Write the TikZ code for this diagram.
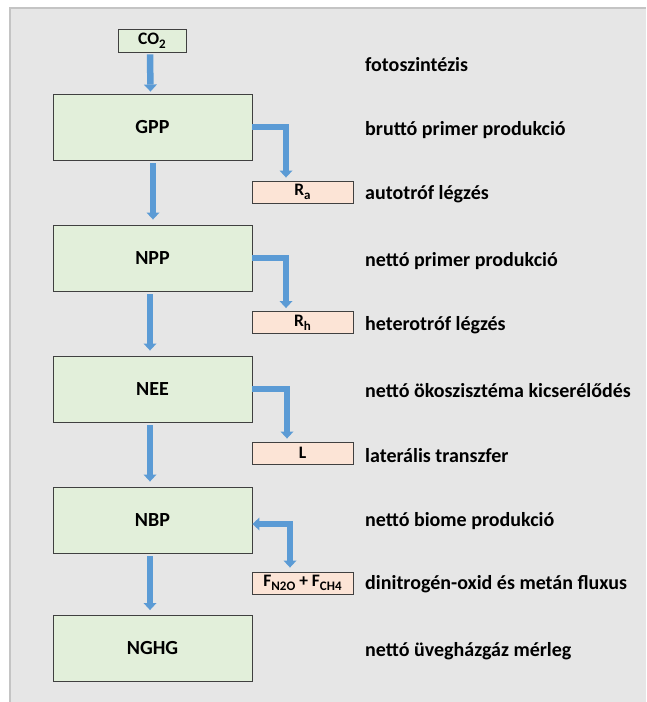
\documentclass[tikz,border=0pt]{standalone}
\usepackage{fontspec}
\setmainfont{Carlito}
\usetikzlibrary{arrows.meta,calc}
\definecolor{bg}{HTML}{E6E6E6}
\definecolor{frame}{HTML}{C4C4C4}
\definecolor{greenfill}{HTML}{E2EFDA}
\definecolor{pinkfill}{HTML}{FCE4D6}
\definecolor{arrowblue}{HTML}{5B9BD5}
\definecolor{boxline}{HTML}{404040}
\newcommand\lsub[1]{\raisebox{-0.22em}{\fontsize{13}{14}\selectfont #1}}
\begin{document}
\begin{tikzpicture}[x=1pt,y=-1pt,
  mainbox/.style={draw=boxline, fill=greenfill, line width=0.9pt, minimum width=199pt, minimum height=66pt, inner sep=0pt, font=\fontsize{20}{22}\selectfont\bfseries},
  fluxbox/.style={draw=boxline, fill=pinkfill, line width=0.9pt, minimum width=101pt, minimum height=22pt, inner sep=0pt, font=\fontsize{17.5}{19}\selectfont\bfseries},
  desc/.style={anchor=base west, inner sep=0pt, font=\fontsize{20}{22}\selectfont\bfseries},
  barrow/.style={draw=arrowblue, line width=6.5pt, -{Triangle[width=13pt,length=7pt,line width=0pt]}},
  barrowtwo/.style={draw=arrowblue, line width=6.5pt, {Triangle[width=13pt,length=7pt,line width=0pt]}-{Triangle[width=13pt,length=7pt,line width=0pt]}}
]
\useasboundingbox (0,0) rectangle (646,702);
\fill[white] (0,0) rectangle (646,702);
\fill[bg] (10,8) rectangle (646,702);
\draw[frame, line width=1.2pt] (10,702) -- (10,8) -- (646,8);

% main boxes
\node[mainbox] (gpp) at (152.5,127) {GPP};
\node[mainbox] (npp) at (152.5,258) {NPP};
\node[mainbox] (nee) at (152.5,389) {NEE};
\node[mainbox] (nbp) at (152.5,520) {NBP};
\node[mainbox] (nghg) at (152.5,648.5) {NGHG};

% CO2
\node[fluxbox, fill=greenfill, minimum width=68pt, minimum height=23pt] (co2) at (152,40.5) {CO\lsub{2}};

% flux boxes
\node[fluxbox] (ra) at (302.5,192) {R\lsub{a}};
\node[fluxbox] (rh) at (302.5,322.5) {R\lsub{h}};
\node[fluxbox] (lt) at (302.5,453) {L};
\node[fluxbox] (fn) at (302.5,583) {F\lsub{N2O} + F\lsub{CH4}};

% vertical arrows
\draw[barrow] ([xshift=-2pt,yshift=-2pt]co2.south) -- ([xshift=-2pt,yshift=2pt]gpp.north);
\draw[barrow] ([xshift=0.5pt,yshift=-3pt]gpp.south) -- ([xshift=0.5pt,yshift=5pt]npp.north);
\draw[barrow] ([xshift=-2.5pt,yshift=-3pt]npp.south) -- ([xshift=-2.5pt,yshift=5pt]nee.north);
\draw[barrow] ([xshift=-2.5pt,yshift=-3pt]nee.south) -- ([xshift=-2.5pt,yshift=5pt]nbp.north);
\draw[barrow] ([xshift=-2.5pt,yshift=-3pt]nbp.south) -- ([xshift=-2.5pt,yshift=5pt]nghg.north);

% elbow arrows
\draw[barrow] (gpp.east) -| ([xshift=-16.5pt,yshift=3pt]ra.north);
\draw[barrow] (npp.east) -| ([xshift=-16.5pt,yshift=3pt]rh.north);
\draw[barrow] (nee.east) -| ([xshift=-15.5pt,yshift=3pt]lt.north);
\draw[barrowtwo] ([yshift=-4pt]nbp.east) -| ([xshift=-12.5pt,yshift=4pt]fn.north);

% descriptions
\node[desc] (d1) at (365,71) {fotoszintézis};
\node[desc] (d2) at (365,135) {bruttó primer produkció};
\node[desc] (d3) at (365,199.5) {autotróf légzés};
\node[desc] (d4) at (365,266) {nettó primer produkció};
\node[desc] (d5) at (365,330) {heterotróf légzés};
\node[desc] (d6) at (365,397) {nettó ökoszisztéma kicserélődés};
\node[desc] (d7) at (365,462) {laterális transzfer};
\node[desc] (d8) at (365,526) {nettó biome produkció};
\node[desc] (d9) at (365,589.5) {dinitrogén-oxid és metán fluxus};
\node[desc] (d10) at (365,656) {nettó üvegházgáz mérleg};
\end{tikzpicture}
\end{document}
